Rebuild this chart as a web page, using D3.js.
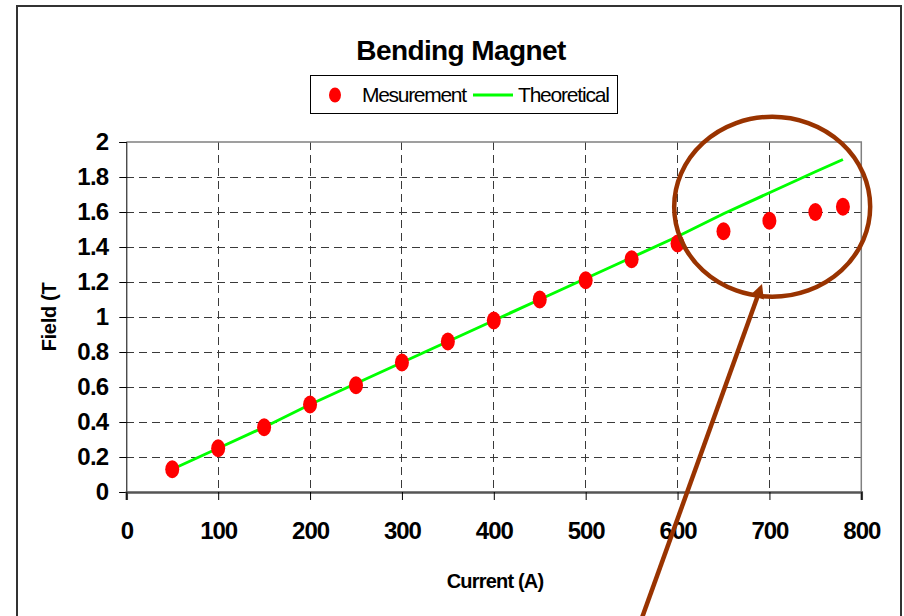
<!DOCTYPE html>
<html>
<head>
<meta charset="utf-8">
<script src="https://cdn.jsdelivr.net/npm/d3@7"></script>
<style>
  html, body { margin: 0; padding: 0; background: #fff; }
  svg { display: block; font-family: Arial, 'Liberation Sans', sans-serif; }
</style>
</head>
<body>
<svg id="chart" width="904" height="616"></svg>
<script>
// Chart data
const currents = [50, 100, 150, 200, 250, 300, 350, 400, 450, 500, 550, 600, 650, 700, 750, 780]
const measured = [0.13, 0.25, 0.37, 0.50, 0.61, 0.74, 0.86, 0.98, 1.10, 1.21, 1.33, 1.42, 1.49, 1.55, 1.60, 1.63]
const theoretical = [0.13, 0.25, 0.37, 0.50, 0.62, 0.74, 0.86, 0.98, 1.10, 1.22, 1.34, 1.46, 1.59, 1.71, 1.83, 1.90]
const xTicks = [0, 100, 200, 300, 400, 500, 600, 700, 800]
const yTicks = [0, 0.2, 0.4, 0.6, 0.8, 1, 1.2, 1.4, 1.6, 1.8, 2]

const svg = d3.select('#chart')

// Scales for the plot area
const x = d3.scaleLinear().domain([0, 800]).range([126.3, 861.3])
const y = d3.scaleLinear().domain([0, 2]).range([492, 142])

// Outer frame of the chart object
svg.append('rect')
  .attr('x', 17).attr('y', 6)
  .attr('width', 884).attr('height', 640)
  .attr('fill', 'none')
  .attr('stroke', '#333')
  .attr('stroke-width', 2)

// Title
svg.append('text')
  .attr('x', 461).attr('y', 60)
  .attr('text-anchor', 'middle')
  .style('font-size', '28px')
  .style('font-weight', 'bold')
  .style('letter-spacing', '-0.6px')
  .text('Bending Magnet')

// Legend
const legend = svg.append('g')
legend.append('rect')
  .attr('x', 310.5).attr('y', 75.5)
  .attr('width', 307).attr('height', 38)
  .attr('fill', '#fff')
  .attr('stroke', '#000')
  .attr('stroke-width', 1)
legend.append('ellipse')
  .attr('cx', 335).attr('cy', 95)
  .attr('rx', 6).attr('ry', 7.5)
  .attr('fill', '#ff0000')
legend.append('text')
  .attr('x', 362).attr('y', 102)
  .style('font-size', '21px')
  .style('letter-spacing', '-1.3px')
  .text('Mesurement')
legend.append('line')
  .attr('x1', 473).attr('x2', 513)
  .attr('y1', 95).attr('y2', 95)
  .attr('stroke', '#00ff00')
  .attr('stroke-width', 3)
legend.append('text')
  .attr('x', 518).attr('y', 102)
  .style('font-size', '21px')
  .style('letter-spacing', '-1.2px')
  .text('Theoretical')

// Grid lines (dashed)
const grid = svg.append('g').attr('shape-rendering', 'crispEdges')
grid.selectAll('.hgrid')
  .data(yTicks.filter(v => v > 0 && v < 2))
  .join('line')
  .attr('x1', x(0)).attr('x2', x(800))
  .attr('y1', d => y(d)).attr('y2', d => y(d))
  .attr('stroke', '#3a3a3a')
  .attr('stroke-width', 1)
  .attr('stroke-dasharray', '8,5')
grid.selectAll('.vgrid')
  .data(xTicks.filter(v => v > 0 && v < 800))
  .join('line')
  .attr('x1', d => x(d)).attr('x2', d => x(d))
  .attr('y1', y(2)).attr('y2', y(0))
  .attr('stroke', '#3a3a3a')
  .attr('stroke-width', 1)
  .attr('stroke-dasharray', '8,5')

// Plot area border, top and right
svg.append('path')
  .attr('d', `M${x(0)},${y(2)}H${x(800)}V${y(0)}`)
  .attr('fill', 'none')
  .attr('stroke', '#808080')
  .attr('stroke-width', 1.5)

// Y axis
const yAxis = svg.append('g')
  .attr('transform', `translate(${x(0)},0)`)
  .call(d3.axisLeft(y).tickValues(yTicks).tickSize(7).tickPadding(11).tickFormat(d3.format('~g')))
yAxis.select('.domain').attr('stroke', '#000').attr('stroke-width', 1)
yAxis.selectAll('.tick line').attr('stroke', '#000')
yAxis.selectAll('text')
  .attr('fill', '#000')
  .style('font-size', '24px')
  .style('font-weight', 'bold')
  .style('font-family', 'Arial, Liberation Sans, sans-serif')
  .style('letter-spacing', '-0.8px')

// X axis
const xAxis = svg.append('g')
  .attr('transform', `translate(0,${y(0)})`)
  .call(d3.axisBottom(x).tickValues(xTicks).tickSize(8).tickPadding(22))
xAxis.select('.domain').attr('stroke', '#555').attr('stroke-width', 2.5)
xAxis.selectAll('.tick line').attr('stroke', '#000')
xAxis.selectAll('text')
  .attr('fill', '#000')
  .style('font-size', '24px')
  .style('font-weight', 'bold')
  .style('font-family', 'Arial, Liberation Sans, sans-serif')
  .style('letter-spacing', '-1px')

// Axis titles
svg.append('text')
  .attr('x', 495).attr('y', 588)
  .attr('text-anchor', 'middle')
  .style('font-size', '20px')
  .style('font-weight', 'bold')
  .style('letter-spacing', '-0.8px')
  .text('Current (A)')
svg.append('text')
  .attr('transform', 'translate(56,317) rotate(-90)')
  .attr('text-anchor', 'middle')
  .style('font-size', '20px')
  .style('font-weight', 'bold')
  .style('letter-spacing', '-0.3px')
  .text('Field (T')

// Theoretical line
const line = d3.line()
  .x((d, i) => x(currents[i]))
  .y(d => y(d))
svg.append('path')
  .datum(theoretical)
  .attr('d', line)
  .attr('fill', 'none')
  .attr('stroke', '#00ff00')
  .attr('stroke-width', 3)

// Measurement markers
svg.append('g')
  .selectAll('ellipse')
  .data(measured)
  .join('ellipse')
  .attr('cx', (d, i) => x(currents[i]))
  .attr('cy', d => y(d))
  .attr('rx', 7)
  .attr('ry', 9)
  .attr('fill', '#ff0000')

// Annotation: circle around the saturation region and the arrow pointing at it
const brown = '#993300'
svg.append('ellipse')
  .attr('cx', x(703)).attr('cy', y(1.63))
  .attr('rx', 98).attr('ry', 90)
  .attr('fill', 'none')
  .attr('stroke', brown)
  .attr('stroke-width', 4.5)

const tip = [762, 284]
const tail = [634, 640]
const ang = Math.atan2(tip[1] - tail[1], tip[0] - tail[0])
const headLen = 14
const headW = 7
const base = [tip[0] - headLen * Math.cos(ang), tip[1] - headLen * Math.sin(ang)]
svg.append('line')
  .attr('x1', tail[0]).attr('y1', tail[1])
  .attr('x2', base[0]).attr('y2', base[1])
  .attr('stroke', brown)
  .attr('stroke-width', 4.5)
svg.append('path')
  .attr('d', `M${tip[0]},${tip[1]}` +
    `L${base[0] + headW * Math.sin(ang)},${base[1] - headW * Math.cos(ang)}` +
    `L${base[0] - headW * Math.sin(ang)},${base[1] + headW * Math.cos(ang)}Z`)
  .attr('fill', brown)
</script>
</body>
</html>
